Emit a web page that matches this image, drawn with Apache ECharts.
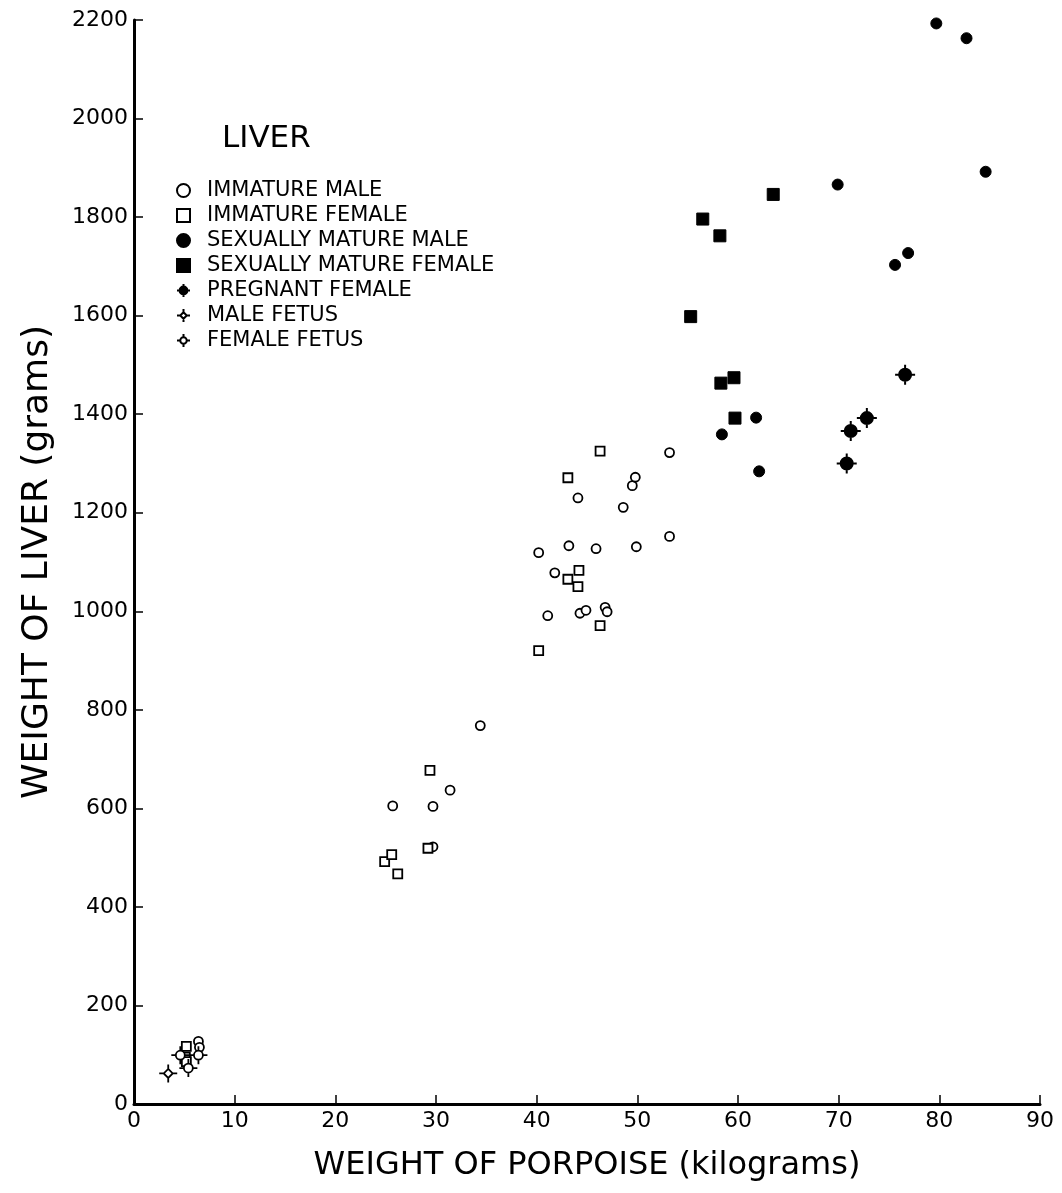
<!DOCTYPE html>
<html>
<head>
<meta charset="utf-8">
<script src="https://cdn.jsdelivr.net/npm/echarts@6/dist/echarts.min.js"></script>
<style>
html,body{margin:0;padding:0;background:#fff;}
#chart{width:1062px;height:1193px;}
</style>
</head>
<body>
<div id="chart"></div>
<script>
// ---- data (x: porpoise weight kg, y: liver weight g) ----
const immatureMale = [
  [6.4,127],[6.5,115],
  [25.7,605],[29.7,604],[29.7,522],[31.4,637],[34.4,768],
  [40.2,1119],[41.1,991],[41.8,1078],[43.2,1133],[44.1,1230],[44.3,996],[44.9,1002],
  [45.9,1127],[46.8,1008],[47.0,999],[48.6,1211],[49.5,1255],[49.8,1272],[49.9,1131],
  [53.2,1152],[53.2,1322]
];
const immatureFemale = [
  [5.2,117],[5.1,95],[5.2,86],
  [24.9,492],[25.6,506],[26.2,467],[29.2,519],[29.4,677],
  [40.2,920],[43.1,1065],[43.1,1271],[44.1,1050],[44.2,1083],[46.3,971],[46.3,1325]
];
const matureMale = [
  [58.4,1359],[61.8,1393],[62.1,1284],[69.9,1866],[75.6,1703],[76.9,1727],
  [79.7,2193],[82.7,2163],[84.6,1892]
];
const matureFemale = [
  [55.3,1598],[56.5,1796],[58.2,1762],[58.3,1463],[59.6,1474],[59.7,1392],[63.5,1846]
];
const pregnantFemale = [
  [70.8,1300],[71.2,1366],[72.8,1392],[76.6,1480]
];
const maleFetus = [[3.4,62]];
const femaleFetus = [[4.6,99],[6.4,99],[5.4,73]];

const seriesNames = ['IMMATURE MALE','IMMATURE FEMALE','SEXUALLY MATURE MALE','SEXUALLY MATURE FEMALE','PREGNANT FEMALE','MALE FETUS','FEMALE FETUS'];
const xTicks = {min:0, max:90, interval:10};
const yTicks = {min:0, max:2200, interval:200};

const FONT = 'DejaVu Sans';
const crossLines = 'M0,-10 L0,-5 M0,5 L0,10 M-10,0 L-5,0 M5,0 L10,0 ';
const pregnantPath = 'path://M0,-10 L0,10 M-10,0 L10,0 M-6,0 A6,6 0 1,0 6,0 A6,6 0 1,0 -6,0 Z';
const maleFetusPath = 'path://' + crossLines + 'M0,-5 L5,0 L0,5 L-5,0 Z';
const femaleFetusPath = 'path://' + crossLines + 'M-5,0 A5,5 0 1,0 5,0 A5,5 0 1,0 -5,0 Z';

function openStyle(){ return {color:'#fff', borderColor:'#000', borderWidth:1.8, opacity:1}; }
function fillStyle(){ return {color:'#000', borderColor:'#000', borderWidth:1, opacity:1}; }

const chart = echarts.init(document.getElementById('chart'), null, {renderer:'canvas'});
chart.setOption({
  animation:false,
  backgroundColor:'#fff',
  title:{
    text:'LIVER', left:222, top:123, padding:0,
    textStyle:{fontFamily:FONT, fontSize:31, fontWeight:'normal', color:'#000'}
  },
  legend:{
    orient:'vertical', left:176, top:180, itemWidth:13, itemHeight:13, itemGap:4,
    padding:0,
    data:seriesNames,
    textStyle:{fontFamily:FONT, fontSize:21, color:'#000', padding:[0,0,0,12]}
  },
  grid:{left:134, right:22, top:20, bottom:89},
  xAxis:{
    type:'value', min:xTicks.min, max:xTicks.max, interval:xTicks.interval,
    name:'WEIGHT OF PORPOISE (kilograms)', nameLocation:'middle', nameGap:46,
    nameTextStyle:{fontFamily:FONT, fontSize:32, color:'#000'},
    axisLine:{lineStyle:{color:'#000', width:3}},
    axisTick:{inside:true, length:9, lineStyle:{color:'#000', width:1.5}},
    axisLabel:{fontFamily:FONT, fontSize:22, color:'#000', margin:6},
    splitLine:{show:false}
  },
  yAxis:{
    type:'value', min:yTicks.min, max:yTicks.max, interval:yTicks.interval,
    name:'WEIGHT OF LIVER (grams)', nameLocation:'middle', nameGap:78, nameRotate:90,
    nameTextStyle:{fontFamily:FONT, fontSize:36, color:'#000'},
    axisLine:{lineStyle:{color:'#000', width:3}},
    axisTick:{inside:true, length:9, lineStyle:{color:'#000', width:1.5}},
    axisLabel:{fontFamily:FONT, fontSize:22, color:'#000', margin:6, formatter:function(v){return String(v);}},
    splitLine:{show:false}
  },
  series:[
    {name:seriesNames[0], type:'scatter', data:immatureMale, symbol:'circle', symbolSize:9, itemStyle:openStyle()},
    {name:seriesNames[1], type:'scatter', data:immatureFemale, symbol:'rect', symbolSize:9, itemStyle:openStyle()},
    {name:seriesNames[2], type:'scatter', data:matureMale, symbol:'circle', symbolSize:11, itemStyle:fillStyle()},
    {name:seriesNames[3], type:'scatter', data:matureFemale, symbol:'rect', symbolSize:12, itemStyle:fillStyle()},
    {name:seriesNames[4], type:'scatter', data:pregnantFemale, symbol:pregnantPath, symbolSize:20, itemStyle:{color:'#000', borderColor:'#000', borderWidth:2, opacity:1}},
    {name:seriesNames[5], type:'scatter', data:maleFetus, symbol:maleFetusPath, symbolSize:18, itemStyle:{color:'#fff', borderColor:'#000', borderWidth:1.8, opacity:1}},
    {name:seriesNames[6], type:'scatter', data:femaleFetus, symbol:femaleFetusPath, symbolSize:18, itemStyle:{color:'#fff', borderColor:'#000', borderWidth:1.8, opacity:1}}
  ]
});
</script>
</body>
</html>
